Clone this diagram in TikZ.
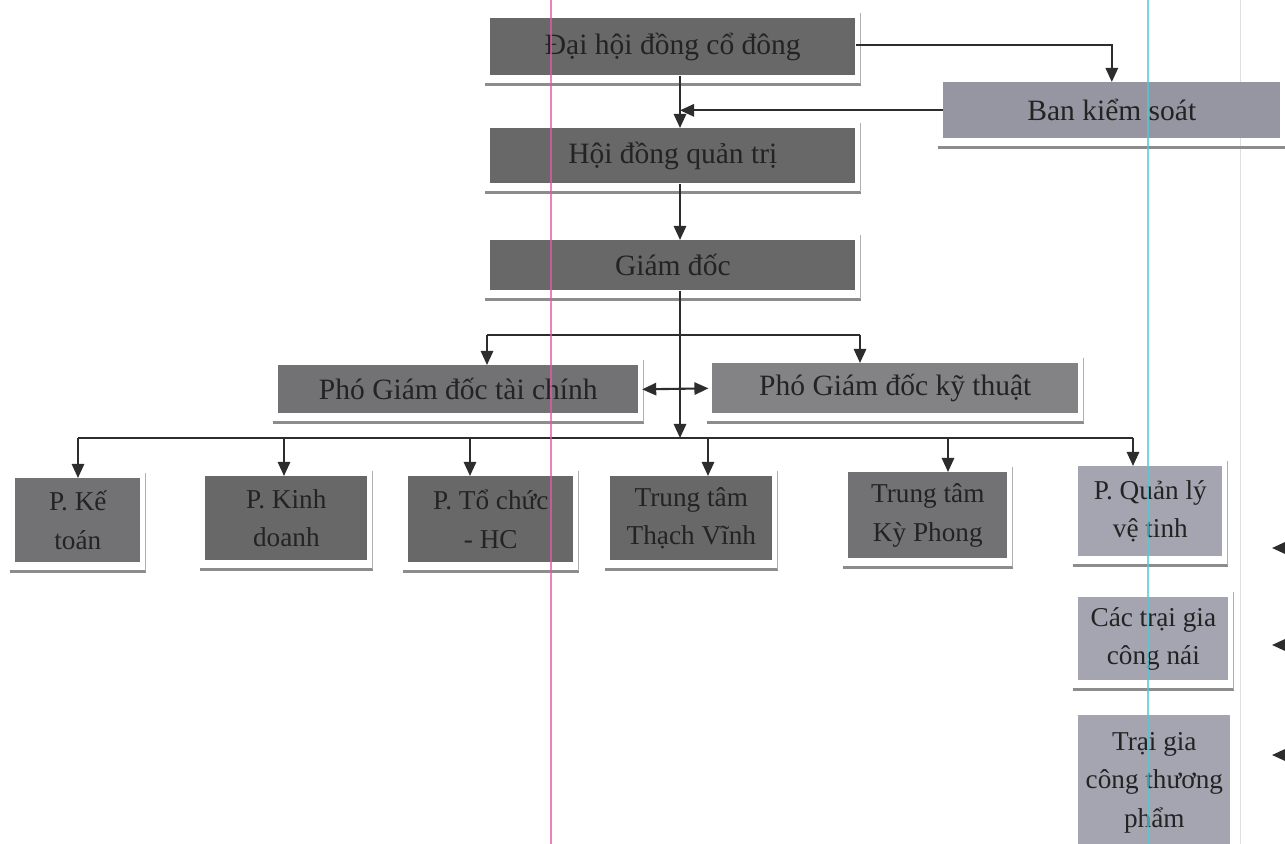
\documentclass[tikz,border=0pt]{standalone}
\usepackage{fontspec}
\setmainfont{Liberation Serif}
\usetikzlibrary{arrows.meta}
\definecolor{boxdark}{RGB}{104,104,104}
\definecolor{boxmid}{RGB}{114,114,116}
\definecolor{boxlight}{RGB}{150,150,162}
\definecolor{boxpale}{RGB}{165,165,178}
\definecolor{txt}{RGB}{35,35,35}
\definecolor{linec}{RGB}{45,45,45}
\definecolor{shadowc}{RGB}{140,140,140}
\definecolor{pinkline}{RGB}{225,90,170}
\definecolor{cyanline}{RGB}{80,200,215}
\tikzset{
  box/.style={draw=none, fill=boxdark, text=txt, align=center, inner sep=2pt,
    font=\fontsize{15.5}{22}\selectfont, anchor=north west},
  bigtext/.style={font=\fontsize{16.8}{20}\selectfont},
  arr/.style={draw=linec, line width=1.2pt, -{Triangle[length=8pt,width=7pt]}},
  link/.style={draw=linec, line width=1.2pt},
  shad/.style={draw=shadowc, line width=1.8pt},
  shadr/.style={draw=shadowc!70, line width=0.6pt},
}
\newcommand{\boxshadow}[1]{%
  \draw[shad] ([xshift=-3pt,yshift=-5pt]#1.south west) -- ([xshift=3pt,yshift=-5pt]#1.south east);
  \draw[shadr] ([xshift=3pt,yshift=-5pt]#1.south east) -- ([xshift=3pt,yshift=3pt]#1.north east);}
\begin{document}
\begin{tikzpicture}[x=0.02cm,y=-0.02cm]
\useasboundingbox[fill=white] (0,0) rectangle (1285,844);
\draw[gray!25, line width=0.5pt] (1240,0) -- (1240,844);

% boxes
\node[box, bigtext, minimum width=7.3cm, minimum height=1.14cm] (dh) at (490,18) {Đại hội đồng cổ đông};
\node[box, bigtext, fill=boxlight, minimum width=6.74cm, minimum height=1.12cm] (bks) at (943,82) {Ban kiểm soát};
\node[box, bigtext, minimum width=7.3cm, minimum height=1.1cm] (hdqt) at (490,128) {Hội đồng quản trị};
\node[box, bigtext, minimum width=7.3cm, minimum height=1.0cm] (gd) at (490,240) {Giám đốc};
\node[box, bigtext, fill=boxmid, minimum width=7.2cm, minimum height=0.96cm] (pgtc) at (278,365) {Phó Giám đốc tài chính};
\node[box, bigtext, fill=boxmid!88!white, minimum width=7.32cm, minimum height=1.0cm] (pgkt) at (712,363) {Phó Giám đốc kỹ thuật};

\node[box, fill=boxmid, minimum width=2.5cm, minimum height=1.68cm] (kt) at (15,478) {P. Kế\\toán};
\node[box, minimum width=3.24cm, minimum height=1.68cm] (kd) at (205,476) {P. Kinh\\doanh};
\node[box, minimum width=3.3cm, minimum height=1.72cm] (tc) at (408,476) {P. Tổ chức\\- HC};
\node[box, minimum width=3.24cm, minimum height=1.68cm] (tv) at (610,476) {Trung tâm\\Thạch Vĩnh};
\node[box, fill=boxmid, minimum width=3.18cm, minimum height=1.72cm] (kp) at (848,472) {Trung tâm\\Kỳ Phong};
\node[box, fill=boxpale, minimum width=2.88cm, minimum height=1.8cm] (ql) at (1078,466) {P. Quản lý\\vệ tinh};
\node[box, fill=boxpale, minimum width=3.0cm, minimum height=1.66cm] (ctn) at (1078,597) {Các trại gia\\công nái};
\node[box, fill=boxpale, minimum width=3.04cm, minimum height=2.7cm] (tgct) at (1078,715) {Trại gia\\công thương\\phẩm};

\foreach \b in {dh,bks,hdqt,gd,pgtc,pgkt,kt,kd,tc,tv,kp,ql,ctn}{\boxshadow{\b}}

% helper coordinates
\coordinate (trunk) at (680,0);
\coordinate (bus) at (0,438);
\coordinate (s1) at (487,335);
\coordinate (s2) at (860,335);
\coordinate (d1) at (78,438);
\coordinate (d2) at (284,438);
\coordinate (d3) at (470,438);
\coordinate (d4) at (708,438);
\coordinate (d5) at (948,438);
\coordinate (d6) at (1133,438);

% connectors
\draw[arr] (dh.east |- 0,45) -| (bks.north);
\draw[arr] (dh.south -| trunk) -- (hdqt.north -| trunk);
\draw[arr] (bks.west) -- (bks.west -| trunk);
\draw[arr] (hdqt.south -| trunk) -- (gd.north -| trunk);
\draw[arr] (gd.south -| trunk) -- (trunk |- bus);
\draw[link] (s1) -- (s2);
\draw[arr] (s1) -- (s1 |- pgtc.north);
\draw[arr] (s2) -- (s2 |- pgkt.north);
\draw[link, {Triangle[length=8pt,width=7pt]}-{Triangle[length=8pt,width=7pt]}] ([xshift=2pt]pgtc.east) -- ([xshift=-2pt]pgkt.west);
\draw[link] (d1) -- (d6);
\draw[arr] (d1) -- (d1 |- kt.north);
\draw[arr] (d2) -- (d2 |- kd.north);
\draw[arr] (d3) -- (d3 |- tc.north);
\draw[arr] (d4) -- (d4 |- tv.north);
\draw[arr] (d5) -- (d5 |- kp.north);
\draw[arr] (d6) -- (d6 |- ql.north);

% arrows entering from the right edge
\coordinate (r1) at (1292,548);
\coordinate (r2) at (1292,645);
\coordinate (r3) at (1292,755);
\draw[arr] (r1) -- ++(-20,0);
\draw[arr] (r2) -- ++(-20,0);
\draw[arr] (r3) -- ++(-20,0);

% scan guide lines (over the boxes)
\draw[pinkline, opacity=0.75, line width=0.7pt] (551,0) -- (551,844);
\draw[cyanline, opacity=0.75, line width=0.7pt] (1148,0) -- (1148,844);
\end{tikzpicture}
\end{document}
